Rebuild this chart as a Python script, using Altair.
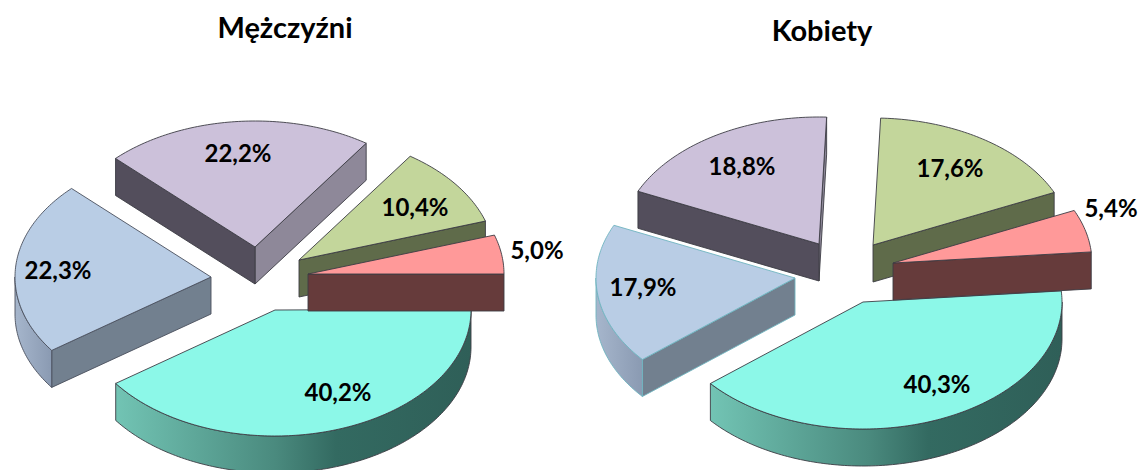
import math
import altair as alt

# ---- values ----
slice_names = ["red", "green", "purple", "blue", "teal"]
men_values = [5.0, 10.4, 22.2, 22.3, 40.2]
women_values = [5.4, 17.6, 18.8, 17.9, 40.3]
men_labels = ["5,0%", "10,4%", "22,2%", "22,3%", "40,2%"]
women_labels = ["5,4%", "17,6%", "18,8%", "17,9%", "40,3%"]
titles = ["Mężczyźni", "Kobiety"]

# ---- layout of the two exploded pies (page pixels) ----
men_layout = dict(start=0.0, rx=196, ry=126, depth=37, apex=dict(
    red=(308, 274), green=(299, 260), purple=(255, 247), blue=(211, 277), teal=(275, 310)))
women_layout = dict(start=5.0, rx=199, ry=127, depth=37, apex=dict(
    red=(893, 263), green=(873, 245), purple=(819, 244), blue=(795, 278), teal=(863, 302)))

men_label_pos = [(537, 252), (415, 209), (238, 155), (58, 272), (338, 394)]
women_label_pos = [(1111, 210), (950, 170), (742, 168), (643, 289), (937, 386)]
title_pos = [(285, 29), (822, 32)]

top_color = dict(red="#ff9999", green="#c3d69b", purple="#ccc1da", blue="#b9cde5", teal="#8cf8e8")
start_wall = dict(red="#663b3b", green="#5f6b4a", purple="#8e8899", blue="#72808f", teal="#2f5f58")
end_wall = dict(red="#663b3b", green="#5f6b4a", purple="#534e5c", blue="#72808f", teal="#2f5f58")


def grad(stops):
    return alt.Gradient(
        gradient="linear", x1=0, x2=1, y1=0, y2=0,
        stops=[alt.GradientStop(offset=o, color=c) for o, c in stops],
    )


rim_fill = dict(
    teal=grad([(0, "#72c4b4"), (0.45, "#4a8a7e"), (0.62, "#336a61"), (1, "#2f5f58")]),
    blue=grad([(0, "#a6b6cc"), (1, "#8a9ab2")]),
)


def poly(points, fill, stroke, width=0.9):
    closed = [list(p) for p in points] + [list(points[0])]
    feature = {"type": "Feature", "properties": {},
               "geometry": {"type": "Polygon", "coordinates": [closed]}}
    return alt.Chart(alt.Data(values=[feature])).mark_geoshape(
        fill=fill, stroke=stroke, strokeWidth=width, strokeJoin="round"
    )


def pie_slices(values, layout, blue_stroke):
    spans = {}
    a = layout["start"]
    for name, v in zip(slice_names, values):
        spans[name] = (a, a + 3.6 * v)
        a += 3.6 * v
    rx, ry, d = layout["rx"], layout["ry"], layout["depth"]
    layers = {}
    for name in slice_names:
        a0, a1 = spans[name]
        ax, ay = layout["apex"][name]
        stroke = blue_stroke if name == "blue" else "#3c3c44"

        def pt(deg, dz=0):
            r = math.radians(deg)
            return (ax + rx * math.cos(r), ay - ry * math.sin(r) + dz)

        n = max(int(abs(a1 - a0)), 2)
        arc = [pt(a0 + (a1 - a0) * i / n) for i in range(n + 1)]
        group = []
        if math.cos(math.radians(a0)) > 0:
            group.append(poly([(ax, ay), pt(a0), pt(a0, d), (ax, ay + d)], start_wall[name], stroke))
        if math.cos(math.radians(a1)) < 0:
            group.append(poly([(ax, ay), pt(a1), pt(a1, d), (ax, ay + d)], end_wall[name], stroke))
        lo, hi = max(a0, 180), min(a1, 360)
        if hi > lo:
            m = int(hi - lo) + 1
            upper = [pt(lo + (hi - lo) * i / m) for i in range(m + 1)]
            lower = [pt(lo + (hi - lo) * i / m, d) for i in range(m, -1, -1)]
            group.append(poly(upper + lower, rim_fill.get(name, start_wall[name]), stroke))
        group.append(poly([(ax, ay)] + arc, top_color[name], stroke))
        layers[name] = group
    return [c for name in ["purple", "green", "blue", "teal", "red"] for c in layers[name]]


def text_layer(rows, size):
    return alt.Chart(alt.Data(values=rows)).mark_text(
        font="Lato", fontWeight="bold", fontSize=size, color="#000000",
        align="center", baseline="middle",
    ).encode(longitude="x:Q", latitude="y:Q", text="t:N")


label_rows = [{"x": p[0], "y": p[1], "t": t} for p, t in
              zip(men_label_pos + women_label_pos, men_labels + women_labels)]
title_rows = [{"x": p[0], "y": p[1], "t": t} for p, t in zip(title_pos, titles)]

layers = (
    pie_slices(men_values, men_layout, "#4a4f5c")
    + pie_slices(women_values, women_layout, "#6fb4c0")
    + [text_layer(label_rows, 24), text_layer(title_rows, 29)]
)

chart = alt.layer(*layers).project(
    type="identity", scale=1, translate=[-8, -8]
).properties(
    width=1130, height=462, padding=0, autosize="none", background="#ffffff"
).configure_view(stroke=None)

chart.save("out.html", embed_options={"renderer": "svg", "actions": False})
